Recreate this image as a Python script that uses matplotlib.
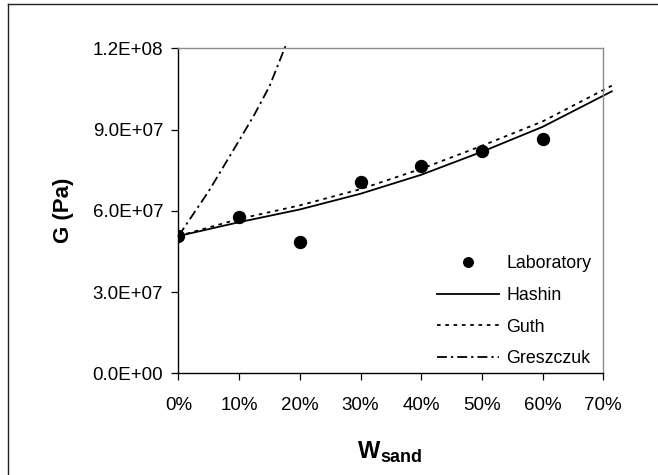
import matplotlib
matplotlib.use("Agg")
import matplotlib.pyplot as plt
from matplotlib.ticker import FuncFormatter, MultipleLocator
from matplotlib.lines import Line2D

plt.rcParams['font.family'] = ['Liberation Sans', 'DejaVu Sans']

# laboratory measurements (shear modulus, Pa)
w_lab = [0.0, 0.1, 0.2, 0.3, 0.4, 0.5, 0.6]
g_lab = [5.07e7, 5.78e7, 4.86e7, 7.05e7, 7.65e7, 8.22e7, 8.64e7]

# model predictions
w_model = [0.0, 0.1, 0.2, 0.3, 0.4, 0.5, 0.6, 0.7, 0.714]
g_hashin = [5.07e7, 5.58e7, 6.05e7, 6.63e7, 7.33e7, 8.18e7, 9.10e7, 1.025e8, 1.041e8]
g_guth = [5.07e7, 5.70e7, 6.20e7, 6.80e7, 7.55e7, 8.40e7, 9.30e7, 1.046e8, 1.062e8]

w_gres = [0.0, 0.05, 0.10, 0.125, 0.15, 0.177]
g_gres = [5.07e7, 6.73e7, 8.60e7, 9.55e7, 1.06e8, 1.212e8]

fig = plt.figure(figsize=(6.58, 4.75), dpi=100)
W, H = 658, 475

# outer chart border
fig.add_artist(Line2D([8 / W, 1.0], [1 - 4 / H, 1 - 4 / H], transform=fig.transFigure,
                      color='#202020', lw=1.0))
fig.add_artist(Line2D([8 / W, 8 / W], [0.0, 1 - 4 / H], transform=fig.transFigure,
                      color='#202020', lw=1.0))

left, right, top, bottom = 178.5, 603.3, 48.3, 373.3
ax = fig.add_axes([left / W, 1 - bottom / H, (right - left) / W, (bottom - top) / H])

ax.plot(w_lab, g_lab, 'o', color='black', ms=8.6, label='Laboratory', zorder=5)
ax.plot(w_model, g_hashin, '-', color='black', lw=1.3, label='Hashin', clip_on=False)
ax.plot(w_model, g_guth, color='black', lw=1.3, dashes=(2.0, 2.6), label='Guth', clip_on=False)
ax.plot(w_gres, g_gres, color='black', lw=1.3, dashes=(5.5, 2.2, 1.3, 2.2), label='Greszczuk',
        clip_on=False)

ax.set_xlim(0, 0.7)
ax.set_ylim(0, 1.2e8)
ax.xaxis.set_major_locator(MultipleLocator(0.1))
ax.yaxis.set_major_locator(MultipleLocator(3e7))
ax.xaxis.set_major_formatter(FuncFormatter(lambda v, p: '%d%%' % round(v * 100)))


def sci(v, p):
    if v == 0:
        return '0.0E+00'
    return '%.1E' % v


ax.yaxis.set_major_formatter(FuncFormatter(sci))
ax.tick_params(axis='both', direction='out', length=5, width=0.9, labelsize=13.5, colors='black')
ax.tick_params(axis='x', pad=12)
ax.tick_params(axis='y', pad=6)

for s in ['top', 'right']:
    ax.spines[s].set_color('#8c8c8c')
    ax.spines[s].set_linewidth(1.0)
for s in ['left', 'bottom']:
    ax.spines[s].set_color('black')
    ax.spines[s].set_linewidth(1.0)

fig.text(63 / W, 1 - 210.5 / H, 'G (Pa)', rotation=90, fontsize=16, fontweight='bold',
         ha='center', va='center')
fig.text(358 / W, 1 - 458 / H, 'W', fontsize=17, fontweight='bold', ha='left', va='baseline')
fig.text(380 / W, 1 - 462.5 / H, 'sand', fontsize=13, fontweight='bold', ha='left', va='baseline')

leg = ax.legend(loc='upper left', bbox_to_anchor=((437 - left) / (right - left), (bottom - 255) / (bottom - top)),
                frameon=False, fontsize=12.8, handlelength=3.5, handletextpad=0.4,
                labelspacing=0.83, borderpad=0, borderaxespad=0, markerscale=0.8)

fig.savefig('out.png', dpi=100)
